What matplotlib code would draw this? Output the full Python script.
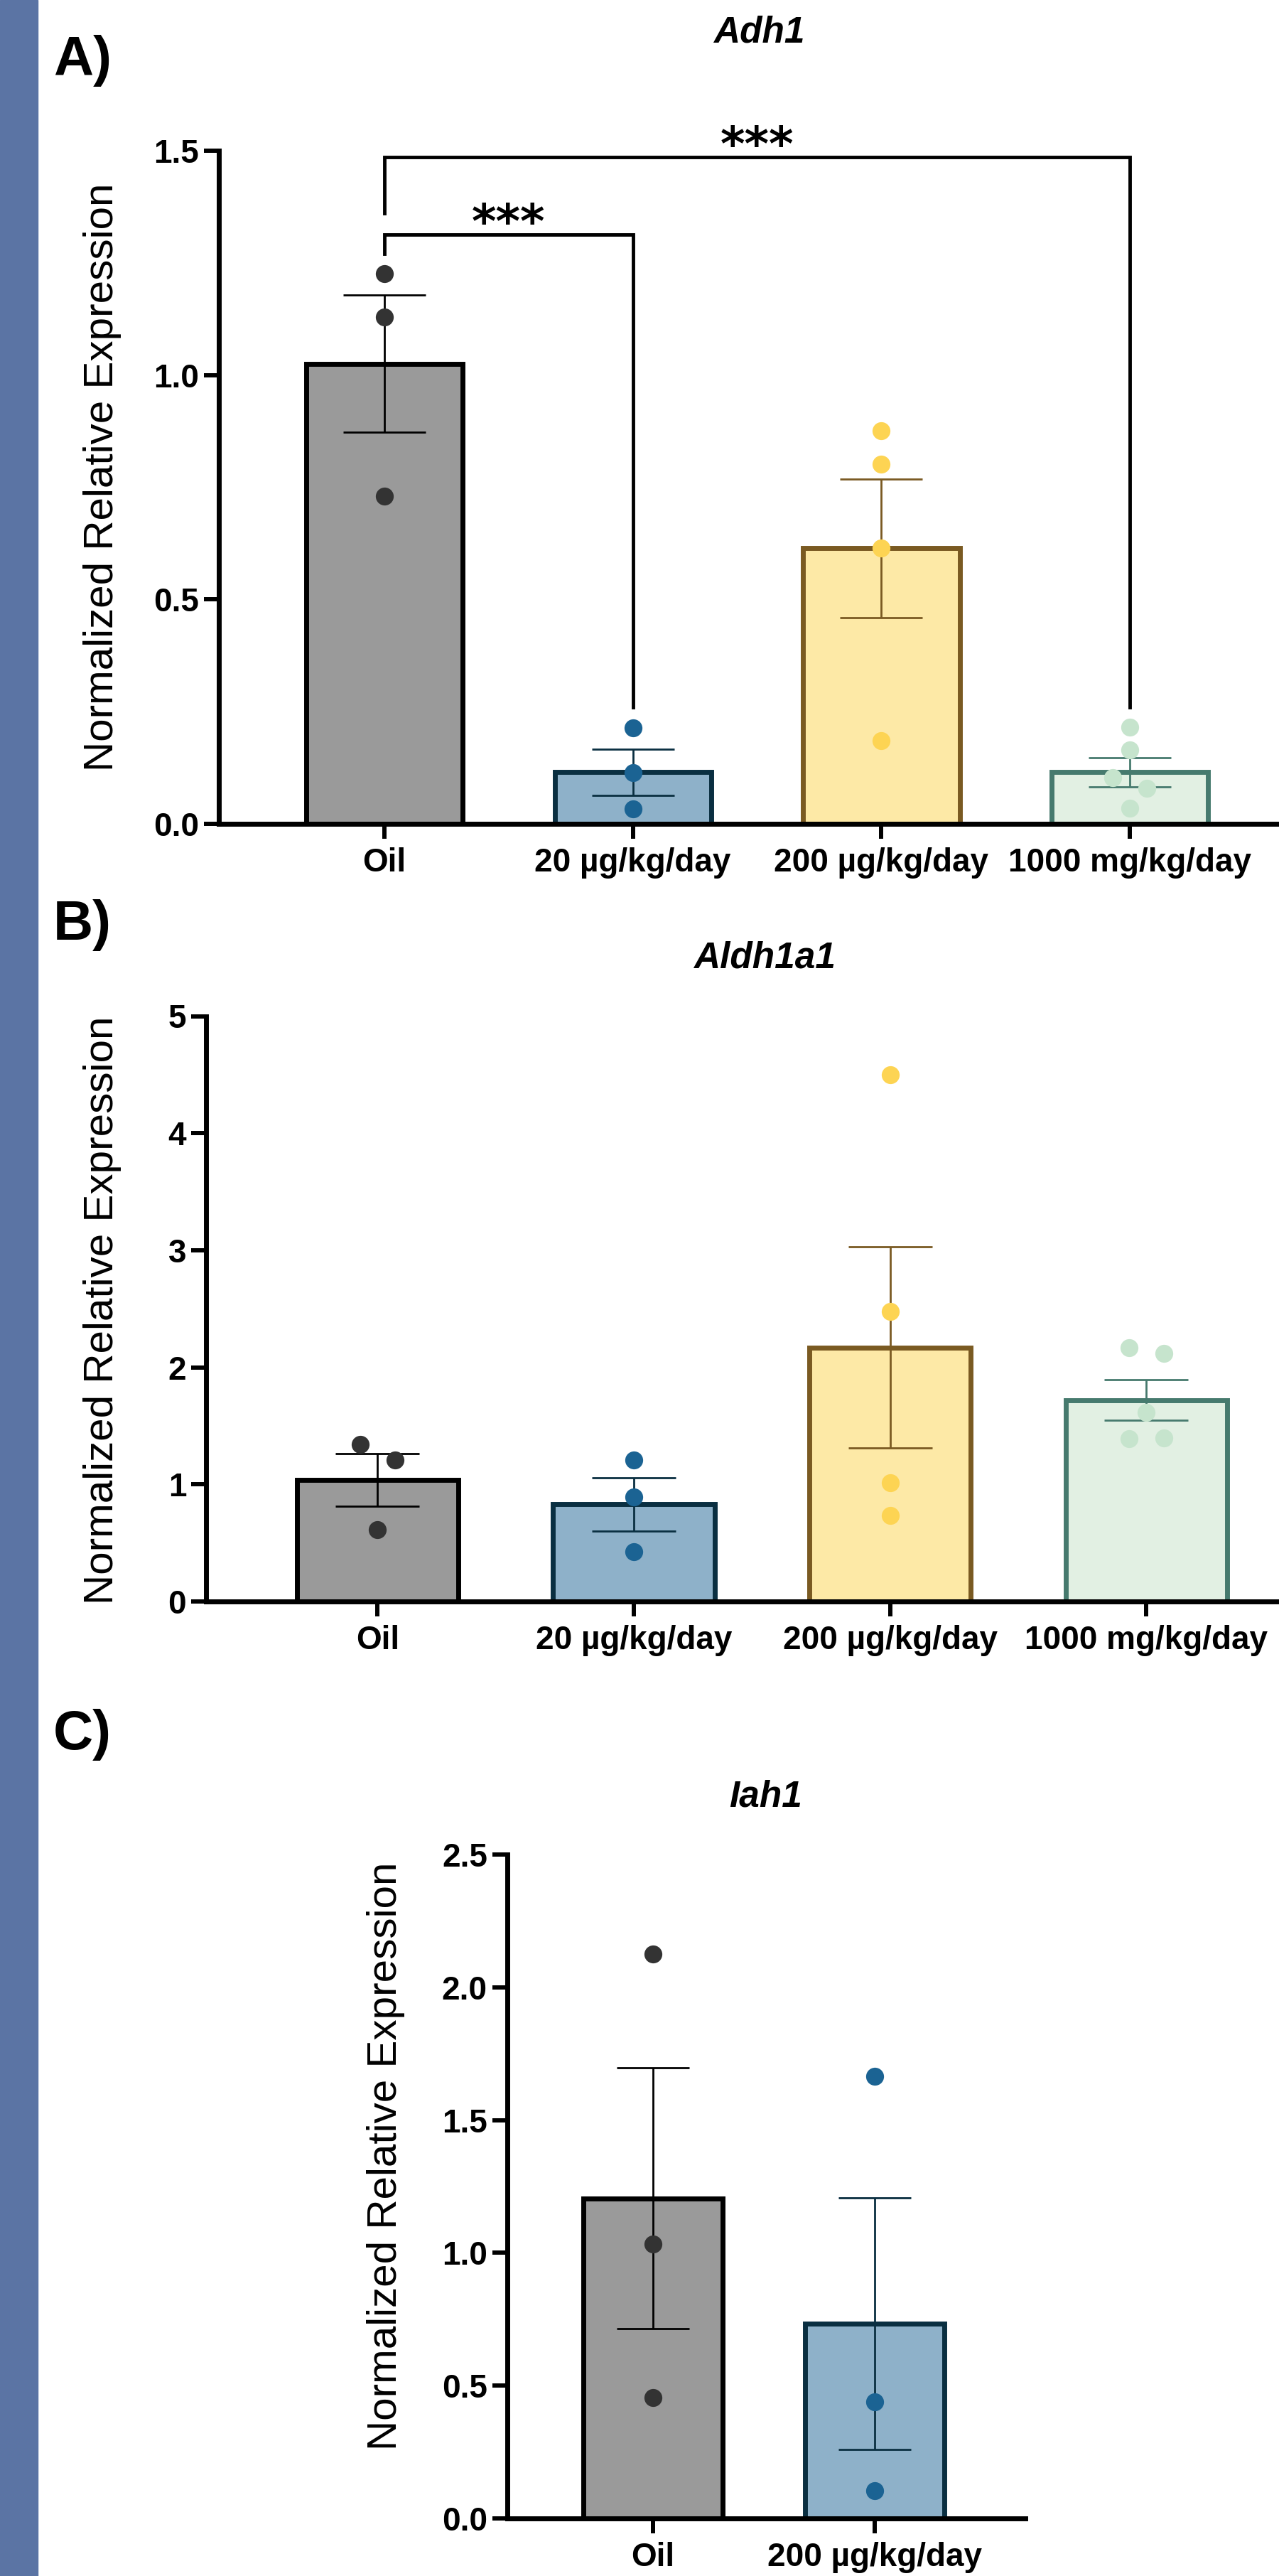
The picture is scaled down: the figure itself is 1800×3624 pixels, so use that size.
import matplotlib
matplotlib.use('Agg')
import matplotlib.pyplot as plt
from matplotlib.patches import Rectangle

plt.rcParams['font.family'] = ['Liberation Sans', 'DejaVu Sans']

W, H = 1800, 3624

groups_ab = ['Oil', '20 µg/kg/day', '200 µg/kg/day', '1000 mg/kg/day']
groups_c = ['Oil', '200 µg/kg/day']

# A) Adh1
adh1_mean = [1.025, 0.115, 0.614, 0.115]
adh1_sem = [0.153, 0.052, 0.155, 0.032]
adh1_points = [[1.226, 1.129, 0.73],
               [0.214, 0.114, 0.034],
               [0.876, 0.802, 0.614, 0.186],
               [0.215, 0.165, 0.103, 0.079, 0.035]]
adh1_jitter = [[0, 0, 0], [0, 0, 0], [0, 0, 0, 0], [0, 0, -1, 1, 0]]

# B) Aldh1a1
aldh_mean = [1.04, 0.83, 2.17, 1.72]
aldh_sem = [0.224, 0.229, 0.86, 0.174]
aldh_points = [[1.343, 1.211, 0.611],
               [1.211, 0.89, 0.422],
               [4.497, 2.477, 1.014, 0.735],
               [2.167, 2.12, 1.618, 1.389, 1.397]]
aldh_jitter = [[-1, 1, 0], [0, 0, 0], [0, 0, 0, 0], [-1, 1, 0, -1, 1]]

# C) Iah1
iah_mean = [1.205, 0.734]
iah_sem = [0.491, 0.474]
iah_points = [[2.125, 1.034, 0.455], [1.666, 0.439, 0.104]]
iah_jitter = [[0, 0, 0], [0, 0, 0]]

fills = ['#9a9a9a', '#8eb1c9', '#fde9a6', '#e2f0e3']
edges = ['#000000', '#0a2f41', '#7a5a22', '#467a6e']
dots = ['#333333', '#1b6393', '#fdd453', '#c6e4cd']

fig = plt.figure(figsize=(W / 100, H / 100), dpi=100)
fig.patches.append(Rectangle((0, 0), 53 / W, 1, transform=fig.transFigure,
                             color='#5b74a4', zorder=0))


def px_axes(left, top, right, bottom):
    return fig.add_axes([left / W, 1 - bottom / H, (right - left) / W, (bottom - top) / H])


def draw_panel(ax, names, means, sems, points, jitter, colour_idx, step_px,
               xlim, yticks, ylabels):
    cap = 0.165 * step_px * 72 / 100
    for i in range(len(names)):
        c = colour_idx[i]
        ax.bar(i, means[i], width=0.63, color=fills[c], edgecolor=edges[c],
               linewidth=5, zorder=2)
        ax.errorbar(i, means[i], yerr=sems[i], color=edges[c], elinewidth=2,
                    capsize=cap, capthick=2, zorder=3)
        xs = [i + 0.068 * j for j in jitter[i]]
        ax.scatter(xs, points[i], s=330, color=dots[c], linewidths=0,
                   zorder=4, clip_on=False)
    ax.set_xlim(*xlim)
    ax.set_ylim(yticks[0], yticks[-1])
    ax.set_xticks(range(len(names)))
    ax.set_xticklabels(names, fontsize=33, fontweight='bold')
    ax.set_yticks(yticks)
    ax.set_yticklabels(ylabels, fontsize=33, fontweight='bold')
    for s in ['top', 'right']:
        ax.spines[s].set_visible(False)
    for s in ['left', 'bottom']:
        ax.spines[s].set_linewidth(5)
    ax.tick_params(axis='both', length=15, width=4.3, color='black')
    ax.tick_params(axis='x', pad=9)
    ax.tick_params(axis='y', pad=5)
    ax.set_facecolor('none')


# panel A
axA = px_axes(308, 212, 1800, 1159)
draw_panel(axA, groups_ab, adh1_mean, adh1_sem, adh1_points, adh1_jitter,
           [0, 1, 2, 3], 349.7, (-0.666, 3.6),
           [0, 0.5, 1.0, 1.5], ['0.0', '0.5', '1.0', '1.5'])

adh1_brackets = [(0, 3, 1.486, 1.361, 0.26), (0, 1, 1.313, 1.270, 0.26)]
for i, j, top, left_end, right_end in adh1_brackets:
    axA.plot([i, i, j, j], [left_end, top, top, right_end], color='black',
             lw=3.5, clip_on=False, zorder=5, solid_joinstyle='miter')
    axA.text((i + j) / 2, top - 0.006, '***', ha='center', va='baseline',
             fontsize=47.5, fontweight='bold', family='DejaVu Sans')

# panel B
axB = px_axes(290, 1429.5, 1800, 2253)
draw_panel(axB, groups_ab, aldh_mean, aldh_sem, aldh_points, aldh_jitter,
           [0, 1, 2, 3], 360.6, (-0.669, 3.518),
           [0, 1, 2, 3, 4, 5], ['0', '1', '2', '3', '4', '5'])

# panel C
axC = px_axes(713.6, 2609, 1442.6, 3543)
draw_panel(axC, groups_c, iah_mean, iah_sem, iah_points, iah_jitter,
           [0, 1], 312, (-0.658, 1.678),
           [0, 0.5, 1.0, 1.5, 2.0, 2.5], ['0.0', '0.5', '1.0', '1.5', '2.0', '2.5'])

# labels
ylab = 'Normalized Relative Expression'
fig.text(144 / W, 1 - 671 / H, ylab, rotation=90, ha='center', va='center', fontsize=42)
fig.text(144 / W, 1 - 1843 / H, ylab, rotation=90, ha='center', va='center', fontsize=42)
fig.text(543 / W, 1 - 3033 / H, ylab, rotation=90, ha='center', va='center', fontsize=42)

for txt, x, y in [('Adh1', 1068, 59), ('Aldh1a1', 1076, 1361), ('Iah1', 1078, 2541)]:
    fig.text(x / W, 1 - y / H, txt, ha='center', va='baseline', fontsize=37,
             fontweight='bold', fontstyle='italic')

for txt, y in [('A)', 106), ('B)', 1322), ('C)', 2461)]:
    fig.text(75 / W, 1 - y / H, txt, ha='left', va='baseline', fontsize=56,
             fontweight='bold')

fig.savefig('out.png', dpi=100)
